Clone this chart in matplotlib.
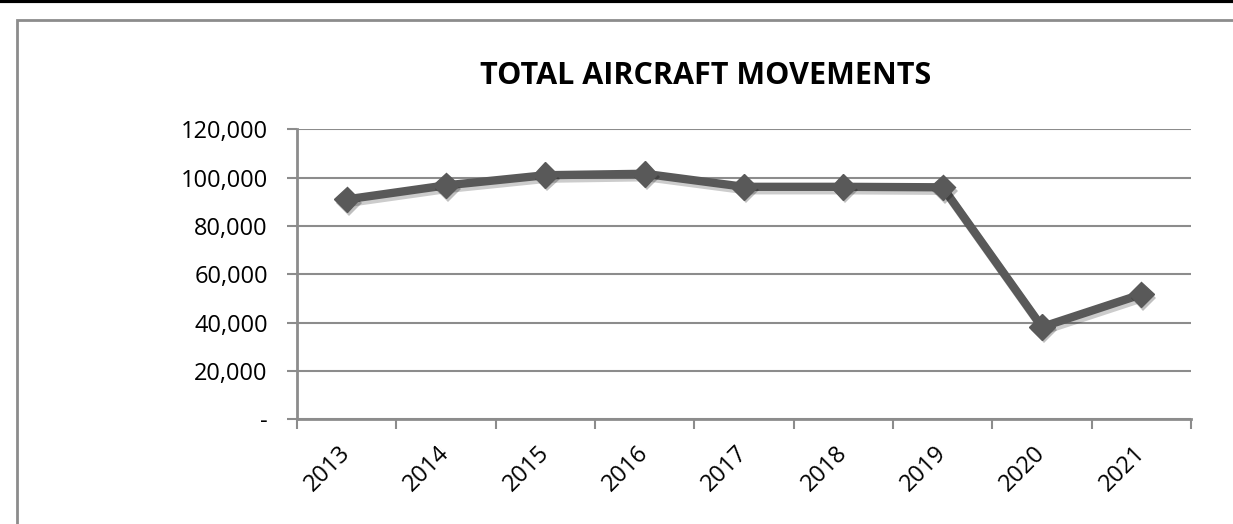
import matplotlib
matplotlib.use('Agg')
import matplotlib.pyplot as plt
import matplotlib.patheffects as pe
from matplotlib.patches import Rectangle
from matplotlib.lines import Line2D
import numpy as np

#values
years=['2013','2014','2015','2016','2017','2018','2019','2020','2021']
movements=[91000,96800,101000,101600,96200,96200,96000,38200,51700]
yticks=[0,20000,40000,60000,80000,100000,120000]
ylabels=['-','20,000','40,000','60,000','80,000','100,000','120,000']

plt.rcParams['font.family']=['Open Sans','DejaVu Sans']

W,H=1233,524
fig=plt.figure(figsize=(W/100,H/100),dpi=100)
ax=fig.add_axes([297/W,1-419.3/H,(1191-297)/W,(419.3-129.3)/H])

grey='#8c8c8c'
x=np.arange(len(years))
#line and markers drawn apart so each gets its own soft shadow
ax.plot(x,movements,color='#595959',lw=6,solid_joinstyle='miter',zorder=3,
        path_effects=[pe.SimpleLineShadow(offset=(1.5,-2.5),alpha=0.2,shadow_color='k'),pe.Normal()])
ax.plot(x,movements,linestyle='none',marker='D',ms=13,color='#595959',zorder=4,
        path_effects=[pe.SimplePatchShadow(offset=(1.5,-2.5),alpha=0.25,shadow_rgbFace='k'),pe.Normal()])

ax.set_xlim(-0.5,len(years)-0.5)
ax.set_ylim(0,120000)
ax.set_yticks(yticks)
ax.set_yticklabels(ylabels,fontsize=17)
ax.set_xticks(x)
ax.set_xticklabels(years,fontsize=17,rotation=45,ha='right',va='center',rotation_mode='anchor')
ax.set_xticks(np.arange(-0.5,len(years),1),minor=True)
ax.tick_params(axis='x',which='major',length=0,pad=22)
ax.tick_params(axis='x',which='minor',length=7,width=1.5,color=grey,direction='out')
ax.tick_params(axis='y',length=7,width=1.5,color=grey,pad=14)

ax.grid(axis='y',color=grey,lw=1.5)
ax.set_axisbelow(True)
for s in ['top','right']:
    ax.spines[s].set_visible(False)
for s in ['left','bottom']:
    ax.spines[s].set_color(grey)
    ax.spines[s].set_linewidth(2)

fig.text(706/W,1-76/H,'TOTAL AIRCRAFT MOVEMENTS',fontsize=22,fontweight='bold',ha='center',va='center')

#chart frame and the black rule on top
fig.patches.append(Rectangle((17/W,-0.1),1.2,1-20/H+0.1,transform=fig.transFigure,fill=False,ec='#8c8c8c',lw=2))
fig.add_artist(Line2D([0,1],[1-1/H,1-1/H],transform=fig.transFigure,color='k',lw=3))

fig.savefig('out.png',dpi=100)
